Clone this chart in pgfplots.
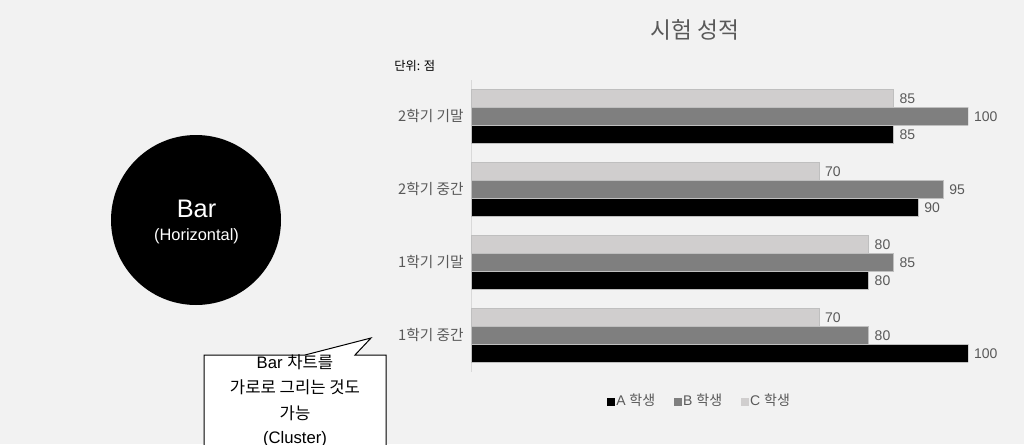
\documentclass[border=0pt]{standalone}
\usepackage{fontspec}
\usepackage{pgfplots}
\pgfplotsset{compat=1.18}
\setmainfont{Liberation Sans}
\newfontfamily\kr{Noto Sans CJK KR}

\definecolor{bg}{HTML}{F2F2F2}
\definecolor{txt}{HTML}{595959}
\definecolor{barA}{HTML}{000000}
\definecolor{barB}{HTML}{7F7F7F}
\definecolor{barC}{HTML}{D0CECE}
\definecolor{edge}{HTML}{BFBFBF}
\definecolor{spine}{HTML}{D9D9D9}

\begin{document}
\begin{tikzpicture}[x=0.75pt,y=0.75pt]
\useasboundingbox (0,0) rectangle (1024,444);
\fill[bg] (0,0) rectangle (1024,444);

% circle badge
\fill[black] (196,224) circle (85);
\node[text=white,font=\fontsize{19pt}{22pt}\selectfont] at (196.5,235) {Bar};
\node[text=white,font=\fontsize{12.3pt}{14pt}\selectfont] at (196.5,208) {(Horizontal)};

% callout
\begin{scope}
\clip (0,0) rectangle (1024,444);
\filldraw[fill=white,draw=black,line width=0.75pt]
  (204,-4) -- (204,89) -- (305,89) -- (371,106) -- (355,89) -- (386,89) -- (386,-4) -- cycle;
\node[font=\fontsize{12.5pt}{15pt}\selectfont] at (295,82) {Bar {\kr 차트를}};
\node[font=\kr\fontsize{12.5pt}{15pt}\selectfont] at (295,57) {가로로 그리는 것도};
\node[font=\kr\fontsize{12.5pt}{15pt}\selectfont] at (295,31) {가능};
\node[font=\fontsize{12.5pt}{15pt}\selectfont] at (295,5) {(Cluster)};
\end{scope}

% titles
\node[text=txt,font=\kr\fontsize{17pt}{20pt}\selectfont] at (695,414) {시험 성적};
\node[anchor=west,inner sep=0pt,font=\kr\fontsize{9.2pt}{11pt}\selectfont] at (394,378) {단위: 점};

\begin{axis}[
  at={(353.25pt,54.375pt)}, anchor=south west,
  scale only axis, width=372.75pt, height=219pt,
  xbar, bar width=13.5pt,
  xmin=0, xmax=100, ymin=-0.5, ymax=3.5,
  axis x line=none, axis y line=left,
  y axis line style={-, draw=spine, line width=0.75pt},
  ytick={0,1,2,3},
  yticklabels={1학기 중간, 1학기 기말, 2학기 중간, 2학기 기말},
  major tick length=0pt,
  yticklabel style={font=\kr\fontsize{11pt}{13pt}\selectfont, text=txt, xshift=-2pt},
  nodes near coords,
  /pgf/number format/assume math mode=true,
  every node near coord/.append style={font=\fontsize{10.5pt}{12pt}\selectfont, text=txt, xshift=1pt, yshift=-0.5pt},
  legend columns=3,
  legend style={draw=none, fill=none, at={(0.459,-0.101)}, anchor=center,
    font=\fontsize{10.5pt}{12pt}\selectfont, text=txt,
    nodes={inner xsep=1pt},
    /tikz/every even column/.append style={column sep=13pt}},
  legend image code/.code={\fill[#1,draw=none] (0pt,-3.5pt) rectangle (6pt,2.5pt);},
]
\addplot[fill=barA, draw=edge, line width=0.5pt, bar shift=-13.5pt]
  coordinates {(100,0) (80,1) (90,2) (85,3)};
\addplot[fill=barB, draw=edge, line width=0.5pt, bar shift=0pt]
  coordinates {(80,0) (85,1) (95,2) (100,3)};
\addplot[fill=barC, draw=edge, line width=0.5pt, bar shift=13.5pt]
  coordinates {(70,0) (80,1) (70,2) (85,3)};
\legend{A {\kr 학생}, B {\kr 학생}, C {\kr 학생}}
\end{axis}
\end{tikzpicture}
\end{document}
